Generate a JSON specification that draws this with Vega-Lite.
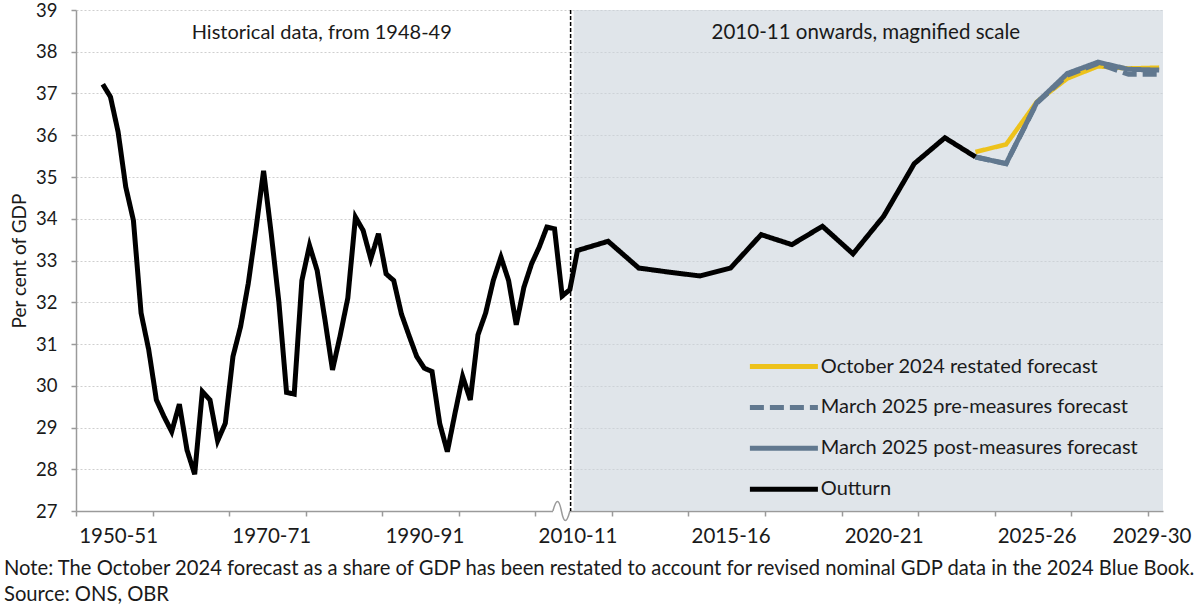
{
  "$schema": "https://vega.github.io/schema/vega-lite/v6.json",
  "width": 1087,
  "height": 501,
  "autosize": {"type": "none"},
  "padding": {"left": 76, "top": 10, "right": 37, "bottom": 96},
  "background": "white",
  "config": {
    "font": "Lato",
    "view": {"stroke": null},
    "axis": {"labelFont": "Lato", "titleFont": "Lato", "labelColor": "#1a1a1a", "titleColor": "#1a1a1a"}
  },
  "title": {
    "text": ["Note: The October 2024 forecast as a share of GDP has been restated to account for revised nominal GDP data in the 2024 Blue Book.", "Source: ONS, OBR"],
    "orient": "bottom",
    "anchor": "start",
    "frame": "group",
    "dx": -72,
    "offset": 12,
    "fontSize": 20.2,
    "fontWeight": "normal",
    "font": "Lato",
    "color": "#1a1a1a",
    "lineHeight": 26.7,
    "baseline": "top"
  },
  "data": {
    "values": [
      {"year": 1948, "series": "Outturn", "value": 37.22},
      {"year": 1949, "series": "Outturn", "value": 36.92},
      {"year": 1950, "series": "Outturn", "value": 36.08},
      {"year": 1951, "series": "Outturn", "value": 34.76},
      {"year": 1952, "series": "Outturn", "value": 33.96},
      {"year": 1953, "series": "Outturn", "value": 31.74},
      {"year": 1954, "series": "Outturn", "value": 30.86},
      {"year": 1955, "series": "Outturn", "value": 29.66},
      {"year": 1956, "series": "Outturn", "value": 29.26},
      {"year": 1957, "series": "Outturn", "value": 28.9},
      {"year": 1958, "series": "Outturn", "value": 29.56},
      {"year": 1959, "series": "Outturn", "value": 28.46},
      {"year": 1960, "series": "Outturn", "value": 27.88},
      {"year": 1961, "series": "Outturn", "value": 29.86},
      {"year": 1962, "series": "Outturn", "value": 29.66},
      {"year": 1963, "series": "Outturn", "value": 28.68},
      {"year": 1964, "series": "Outturn", "value": 29.1},
      {"year": 1965, "series": "Outturn", "value": 30.7},
      {"year": 1966, "series": "Outturn", "value": 31.42},
      {"year": 1967, "series": "Outturn", "value": 32.45},
      {"year": 1968, "series": "Outturn", "value": 33.75},
      {"year": 1969, "series": "Outturn", "value": 35.15},
      {"year": 1970, "series": "Outturn", "value": 33.64},
      {"year": 1971, "series": "Outturn", "value": 32.0},
      {"year": 1972, "series": "Outturn", "value": 29.84},
      {"year": 1973, "series": "Outturn", "value": 29.8},
      {"year": 1974, "series": "Outturn", "value": 32.52},
      {"year": 1975, "series": "Outturn", "value": 33.36},
      {"year": 1976, "series": "Outturn", "value": 32.76},
      {"year": 1977, "series": "Outturn", "value": 31.6},
      {"year": 1978, "series": "Outturn", "value": 30.38},
      {"year": 1979, "series": "Outturn", "value": 31.2},
      {"year": 1980, "series": "Outturn", "value": 32.1},
      {"year": 1981, "series": "Outturn", "value": 34.04},
      {"year": 1982, "series": "Outturn", "value": 33.72},
      {"year": 1983, "series": "Outturn", "value": 33.04},
      {"year": 1984, "series": "Outturn", "value": 33.64},
      {"year": 1985, "series": "Outturn", "value": 32.68},
      {"year": 1986, "series": "Outturn", "value": 32.52},
      {"year": 1987, "series": "Outturn", "value": 31.72},
      {"year": 1988, "series": "Outturn", "value": 31.2},
      {"year": 1989, "series": "Outturn", "value": 30.7},
      {"year": 1990, "series": "Outturn", "value": 30.42},
      {"year": 1991, "series": "Outturn", "value": 30.34},
      {"year": 1992, "series": "Outturn", "value": 29.1},
      {"year": 1993, "series": "Outturn", "value": 28.42},
      {"year": 1994, "series": "Outturn", "value": 29.34},
      {"year": 1995, "series": "Outturn", "value": 30.22},
      {"year": 1996, "series": "Outturn", "value": 29.66},
      {"year": 1997, "series": "Outturn", "value": 31.22},
      {"year": 1998, "series": "Outturn", "value": 31.74},
      {"year": 1999, "series": "Outturn", "value": 32.52},
      {"year": 2000, "series": "Outturn", "value": 33.08},
      {"year": 2001, "series": "Outturn", "value": 32.52},
      {"year": 2002, "series": "Outturn", "value": 31.46},
      {"year": 2003, "series": "Outturn", "value": 32.36},
      {"year": 2004, "series": "Outturn", "value": 32.92},
      {"year": 2005, "series": "Outturn", "value": 33.32},
      {"year": 2006, "series": "Outturn", "value": 33.8},
      {"year": 2007, "series": "Outturn", "value": 33.76},
      {"year": 2008, "series": "Outturn", "value": 32.15},
      {"year": 2009, "series": "Outturn", "value": 32.3},
      {"year": 2010, "series": "Outturn", "value": 33.24},
      {"year": 2011, "series": "Outturn", "value": 33.46},
      {"year": 2012, "series": "Outturn", "value": 32.82},
      {"year": 2013, "series": "Outturn", "value": 32.72},
      {"year": 2014, "series": "Outturn", "value": 32.63},
      {"year": 2015, "series": "Outturn", "value": 32.82},
      {"year": 2016, "series": "Outturn", "value": 33.62},
      {"year": 2017, "series": "Outturn", "value": 33.38},
      {"year": 2018, "series": "Outturn", "value": 33.82},
      {"year": 2019, "series": "Outturn", "value": 33.16},
      {"year": 2020, "series": "Outturn", "value": 34.06},
      {"year": 2021, "series": "Outturn", "value": 35.32},
      {"year": 2022, "series": "Outturn", "value": 35.94},
      {"year": 2023, "series": "Outturn", "value": 35.48},
      {"year": 2023, "series": "October 2024 restated forecast", "value": 35.6},
      {"year": 2024, "series": "October 2024 restated forecast", "value": 35.78},
      {"year": 2025, "series": "October 2024 restated forecast", "value": 36.8},
      {"year": 2026, "series": "October 2024 restated forecast", "value": 37.36},
      {"year": 2027, "series": "October 2024 restated forecast", "value": 37.65},
      {"year": 2028, "series": "October 2024 restated forecast", "value": 37.6},
      {"year": 2029, "series": "October 2024 restated forecast", "value": 37.62},
      {"year": 2023, "series": "March 2025 pre-measures forecast", "value": 35.48},
      {"year": 2024, "series": "March 2025 pre-measures forecast", "value": 35.32},
      {"year": 2025, "series": "March 2025 pre-measures forecast", "value": 36.77},
      {"year": 2026, "series": "March 2025 pre-measures forecast", "value": 37.44},
      {"year": 2027, "series": "March 2025 pre-measures forecast", "value": 37.72},
      {"year": 2028, "series": "March 2025 pre-measures forecast", "value": 37.46},
      {"year": 2029, "series": "March 2025 pre-measures forecast", "value": 37.46},
      {"year": 2023, "series": "March 2025 post-measures forecast", "value": 35.48},
      {"year": 2024, "series": "March 2025 post-measures forecast", "value": 35.32},
      {"year": 2025, "series": "March 2025 post-measures forecast", "value": 36.78},
      {"year": 2026, "series": "March 2025 post-measures forecast", "value": 37.48},
      {"year": 2027, "series": "March 2025 post-measures forecast", "value": 37.75},
      {"year": 2028, "series": "March 2025 post-measures forecast", "value": 37.58},
      {"year": 2029, "series": "March 2025 post-measures forecast", "value": 37.56}
    ]
  },
  "layer": [
    {
      "data": {"values": [{}]},
      "mark": {"type": "rect", "fill": "#CBD4DC", "opacity": 0.6},
      "encoding": {
        "x": {
          "datum": 2009.5,
          "type": "quantitative",
          "scale": {"domain": [1944.5, 2010, 2029.125], "range": [0, 501.5, 1087], "nice": false, "zero": false},
          "axis": {
            "title": null,
            "values": [1944.5, 1954.5, 1964.5, 1974.5, 1984.5, 1994.5, 2004.5, 2011.125, 2013.625, 2016.125, 2018.625, 2021.125, 2023.625, 2026.125, 2028.625, 1950, 1970, 1990, 2010, 2015, 2020, 2025, 2028.75],
            "labelExpr": "datum.value == 1950 ? '1950-51' : datum.value == 1970 ? '1970-71' : datum.value == 1990 ? '1990-91' : datum.value == 2010 ? '2010-11' : datum.value == 2015 ? '2015-16' : datum.value == 2020 ? '2020-21' : datum.value == 2025 ? '2025-26' : datum.value == 2028.75 ? '2029-30' : ''",
            "tickOpacity": {"condition": {"test": "datum.value == 1950 || datum.value == 1970 || datum.value == 1990 || datum.value == 2010 || datum.value == 2015 || datum.value == 2020 || datum.value == 2025 || datum.value == 2028.75", "value": 0}, "value": 1},
            "grid": false,
            "domainColor": "#9a9a9a",
            "domainWidth": 1.5,
            "tickColor": "#9a9a9a",
            "tickWidth": 1.5,
            "tickSize": 5,
            "labelFontSize": 20.5,
            "labelPadding": 10,
            "labelOverlap": false,
            "labelFlush": false,
            "labelBound": false
          }
        },
        "x2": {"datum": 2029.125},
        "y": {
          "datum": 27,
          "type": "quantitative",
          "scale": {"domain": [27, 39], "nice": false, "zero": false},
          "axis": {
            "title": "Per cent of GDP",
            "titleFontSize": 19,
            "titleFontWeight": "normal",
            "titlePadding": 6,
            "values": [27, 28, 29, 30, 31, 32, 33, 34, 35, 36, 37, 38, 39],
            "grid": true,
            "gridColor": "#cfcfcf",
            "gridDash": [2, 2],
            "gridWidth": 1,
            "domainColor": "#9a9a9a",
            "domainWidth": 1.5,
            "tickColor": "#9a9a9a",
            "tickWidth": 1.5,
            "tickSize": 5,
            "labelFontSize": 18.5,
            "labelPadding": 14
          }
        },
        "y2": {"datum": 39}
      }
    },
    {
      "data": {"values": [{}]},
      "mark": {"type": "rect", "fill": "white"},
      "encoding": {
        "x": {"datum": 2006.8, "type": "quantitative"},
        "x2": {"datum": 2009.0},
        "y": {"datum": 26.95, "type": "quantitative"},
        "y2": {"datum": 27.05}
      }
    },
    {
      "data": {"values": [{}]},
      "mark": {"type": "point", "shape": "M-1,0 C-0.6,-1.5 -0.3,-1.5 0,0 C0.3,1.5 0.6,1.5 1,0", "size": 289, "filled": false, "stroke": "#9a9a9a", "strokeWidth": 1.5, "opacity": 1},
      "encoding": {
        "x": {"datum": 2007.9, "type": "quantitative"},
        "y": {"datum": 27, "type": "quantitative"}
      }
    },
    {
      "data": {"values": [{}]},
      "mark": {"type": "rule", "stroke": "#000000", "strokeWidth": 1.5, "strokeDash": [4, 2]},
      "encoding": {
        "x": {"datum": 2009.1, "type": "quantitative"}
      }
    },
    {
      "data": {"values": [{}]},
      "mark": {"type": "text", "text": "Historical data, from 1948-49", "fontSize": 20, "font": "Lato", "color": "#1a1a1a", "align": "center", "baseline": "middle"},
      "encoding": {
        "x": {"datum": 1976.6, "type": "quantitative"},
        "y": {"datum": 38.45, "type": "quantitative"}
      }
    },
    {
      "data": {"values": [{}]},
      "mark": {"type": "text", "text": "2010-11 onwards, magnified scale", "fontSize": 20.5, "font": "Lato", "color": "#1a1a1a", "align": "center", "baseline": "middle"},
      "encoding": {
        "x": {"datum": 2019.42, "type": "quantitative"},
        "y": {"datum": 38.45, "type": "quantitative"}
      }
    },
    {
      "transform": [{"filter": "datum.series == 'October 2024 restated forecast'"}],
      "mark": {"type": "line", "strokeWidth": 4.5},
      "encoding": {
        "x": {"field": "year", "type": "quantitative"},
        "y": {"field": "value", "type": "quantitative"},
        "color": {
          "field": "series",
          "type": "nominal",
          "scale": {
            "domain": ["October 2024 restated forecast", "March 2025 pre-measures forecast", "March 2025 post-measures forecast", "Outturn"],
            "range": ["#EDC21B", "#61788F", "#61788F", "#000000"]
          },
          "legend": {
            "title": null,
            "orient": "none",
            "legendX": 691.4,
            "legendY": 340,
            "padding": 0,
            "symbolType": "M-2.5,0H2.5",
            "symbolSize": 740,
            "symbolStrokeWidth": 5,
            "labelOffset": 20.4,
            "rowPadding": 13.9,
            "labelFontSize": 20,
            "labelFont": "Lato",
            "labelColor": "#1a1a1a",
            "labelLimit": 500
          }
        },
        "strokeDash": {
          "field": "series",
          "type": "nominal",
          "scale": {
            "domain": ["October 2024 restated forecast", "March 2025 pre-measures forecast", "March 2025 post-measures forecast", "Outturn"],
            "range": [[1, 0], [14, 6], [1, 0], [1, 0]]
          }
        }
      }
    },
    {
      "transform": [{"filter": "datum.series == 'March 2025 pre-measures forecast'"}],
      "mark": {"type": "line", "strokeWidth": 5},
      "encoding": {
        "x": {"field": "year", "type": "quantitative"},
        "y": {"field": "value", "type": "quantitative"},
        "color": {"field": "series", "type": "nominal"},
        "strokeDash": {"field": "series", "type": "nominal"}
      }
    },
    {
      "transform": [{"filter": "datum.series == 'March 2025 post-measures forecast'"}],
      "mark": {"type": "line", "strokeWidth": 5},
      "encoding": {
        "x": {"field": "year", "type": "quantitative"},
        "y": {"field": "value", "type": "quantitative"},
        "color": {"field": "series", "type": "nominal"},
        "strokeDash": {"field": "series", "type": "nominal"}
      }
    },
    {
      "transform": [{"filter": "datum.series == 'Outturn'"}],
      "mark": {"type": "line", "strokeWidth": 5},
      "encoding": {
        "x": {"field": "year", "type": "quantitative"},
        "y": {"field": "value", "type": "quantitative"},
        "color": {"field": "series", "type": "nominal"},
        "strokeDash": {"field": "series", "type": "nominal"}
      }
    }
  ]
}
